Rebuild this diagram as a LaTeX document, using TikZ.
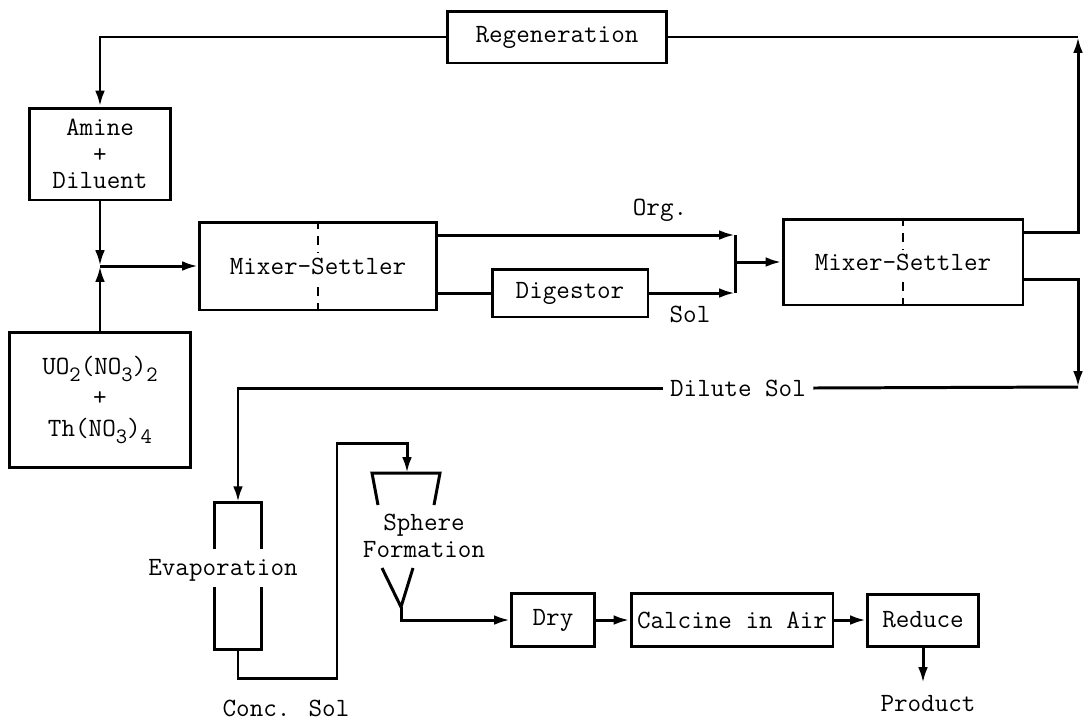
\documentclass[tikz,border=0pt]{standalone}
\usetikzlibrary{arrows.meta,positioning,calc}
\newcommand{\labelfont}{\ttfamily\fontsize{15}{15}\selectfont}
\newcommand{\lowidx}[1]{\raisebox{-4pt}{\fontsize{12.5}{12}\selectfont #1}}

\begin{document}
\begin{tikzpicture}[x=0.02cm,y=-0.02cm,
    box/.style={draw,line width=1.7pt,font=\labelfont,inner sep=0pt,align=center},
    txt/.style={font=\labelfont,inner sep=1pt,align=center},
    pipe/.style={line width=1.7pt},
    flow/.style={line width=1.7pt,-{Latex[length=9pt,width=5.5pt]}},
    divider/.style={line width=1.3pt,dash pattern=on 5pt off 4pt}]
  \useasboundingbox (0,0) rectangle (1091,721);

  % extraction loop
  \node[box,minimum width=4.38cm,minimum height=1.04cm] (regen) at (557,37) {Regeneration};
  \node[box,minimum width=2.84cm,minimum height=1.84cm] (amine) at (100,154) {Amine\\+\\Diluent};
  \node[box,minimum width=3.62cm,minimum height=2.7cm] (feed) at (100,400)
    {UO\lowidx{2}(NO\lowidx{3})\lowidx{2}\\[2.5pt]+\\[2.5pt]Th(NO\lowidx{3})\lowidx{4}};
  \node[box,minimum width=4.74cm,minimum height=1.76cm] (mixA) at (318,266) {Mixer-Settler};
  \node[box,minimum width=3.12cm,minimum height=0.96cm] (digestor) at (570,293) {Digestor};
  \node[box,minimum width=4.8cm,minimum height=1.72cm] (mixB) at (903,262) {Mixer-Settler};
  \draw[divider] (mixA.north) -- ++(0,32) (mixA.south) -- ++(0,-24);
  \draw[divider] (mixB.north) -- ++(0,32) (mixB.south) -- ++(0,-24);

  \coordinate (join) at (100,266);
  \coordinate (orgend) at (735,235);
  \coordinate (solend) at (735,293);
  \coordinate (merge) at (735,262);
  \coordinate (rtop) at (1078,37);
  \coordinate (rbot) at (1078,387);

  \node[txt] (org) at (660,210) {Org.};
  \node[txt] (sol) at (690,314) {Sol};
  \node[txt,inner xsep=4pt,fill=white] (dilute) at (738,388) {Dilute Sol};

  \draw[flow] (regen.west) -| (amine.north);
  \draw[flow] (amine.south) -- (join);
  \draw[flow] (feed.north) -- (join);
  \draw[flow] (join) -- (mixA.west);
  \draw[flow] (mixA.east |- orgend) -- (orgend);
  \draw[pipe] (mixA.east |- digestor) -- (digestor.west);
  \draw[flow] (digestor.east) -- (solend);
  \draw[pipe] (orgend) -- (solend);
  \draw[flow] (merge) -- (mixB.west);
  \draw[flow] ([yshift=17pt]mixB.east) -| (rtop);
  \draw[pipe] (rtop) -- (regen.east);
  \draw[flow] ([yshift=-10pt]mixB.east) -| (rbot);
  \draw[pipe] (rbot) -- (dilute.east);

  % evaporation and sphere formation
  \node[minimum width=0.92cm,minimum height=2.94cm,inner sep=0pt] (evap) at (238,576) {};
  \node[txt] (evaplab) at (223,570) {Evaporation};
  \draw[pipe] ($(evap.north west)+(0,47)$) -- (evap.north west) -- (evap.north east) -- ($(evap.north east)+(0,47)$);
  \draw[pipe] ($(evap.south west)+(0,-63)$) -- (evap.south west) -- (evap.south east) -- ($(evap.south east)+(0,-63)$);
  \draw[flow] (dilute.west) -| (evap.north);

  \coordinate (funtop) at (407,473);
  \coordinate (vtip) at (401,607);
  \node[txt] (conc) at (286,708) {Conc. Sol};
  \node[txt] (sphere) at (424,536) {Sphere\\Formation};
  \draw[pipe] (378,505) -- (372,473) -- (440,473) -- (434,505);
  \draw[pipe] (382,568) -- (vtip) -- (413,568);
  \draw[flow] (evap.south) |- (337,678) -- (337,443) -| (funtop);

  % finishing
  \node[box,minimum width=1.66cm,minimum height=1.06cm] (dry) at (553,620) {Dry};
  \node[box,minimum width=4.04cm,minimum height=1.06cm] (calcine) at (732,620) {Calcine in Air};
  \node[box,minimum width=2.22cm,minimum height=1.04cm] (reduce) at (923,620) {Reduce};
  \node[txt] (product) at (928,704) {Product};
  \coordinate (pout) at (923,683);
  \draw[flow] (vtip) |- (dry.west);
  \draw[flow] (dry) -- (calcine);
  \draw[flow] (calcine) -- (reduce);
  \draw[flow] (reduce.south) -- (pout);
\end{tikzpicture}
\end{document}
